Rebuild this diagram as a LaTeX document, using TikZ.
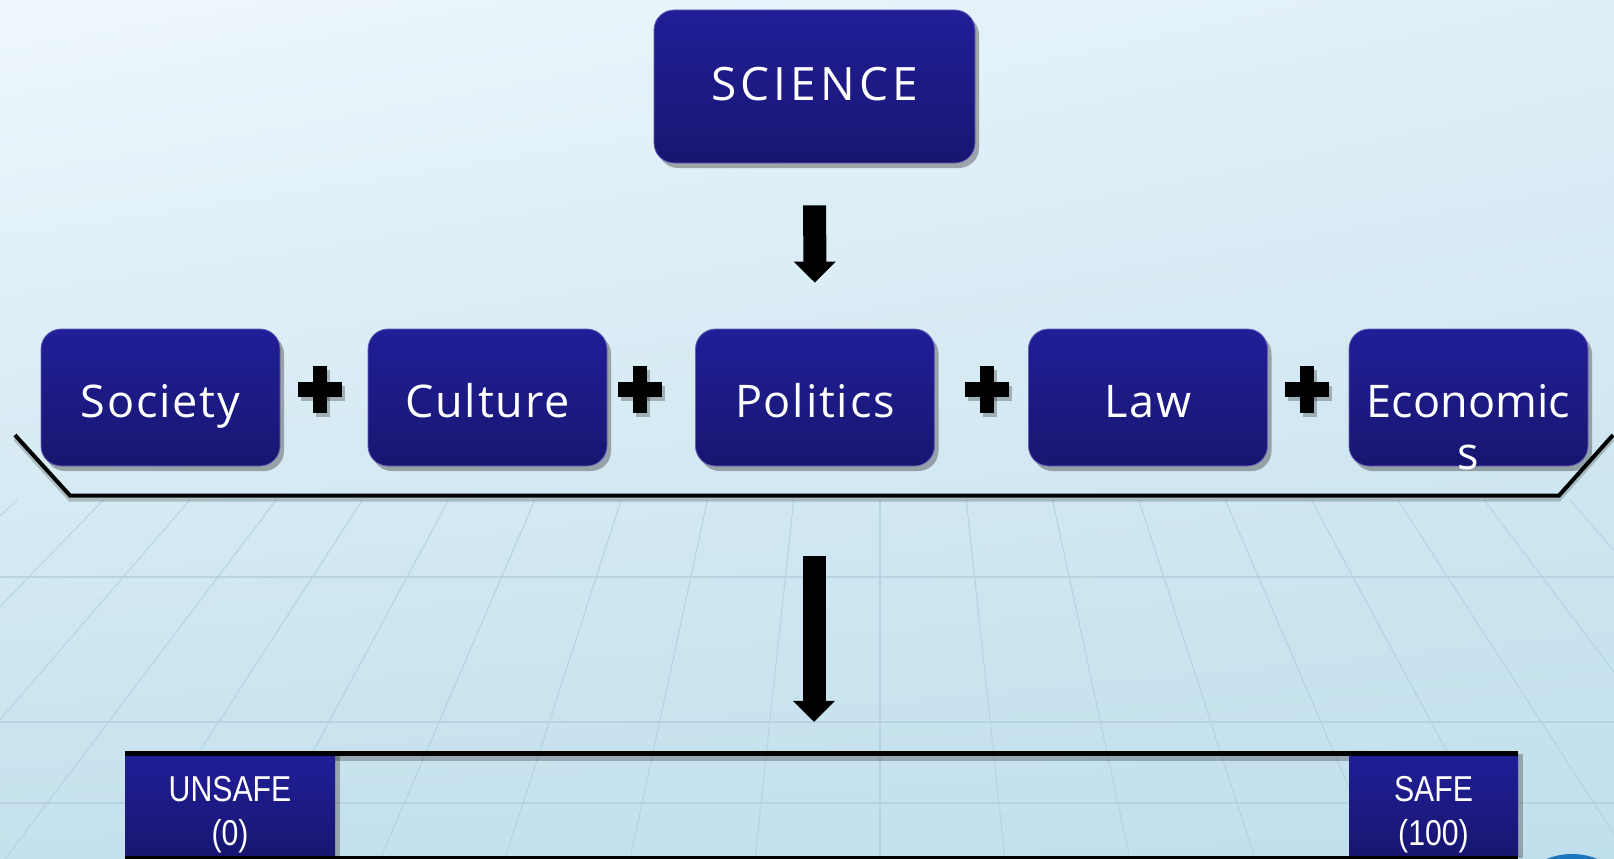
\documentclass[tikz,border=0pt]{standalone}
\usepackage{fontspec}
\setmainfont{Open Sans}[LetterSpace=4]
\newfontfamily\widefont{Open Sans}[LetterSpace=9]
\newfontfamily\plainfont{Open Sans}
\newfontfamily\narrowfont{Liberation Sans}[FakeStretch=0.84]
\usetikzlibrary{arrows.meta,shadows,shadings}

\definecolor{boxtop}{RGB}{33,30,152}
\definecolor{boxbottom}{RGB}{24,22,112}
\definecolor{bgul}{RGB}{238,247,252}
\definecolor{bgur}{RGB}{224,239,247}
\definecolor{bgll}{RGB}{196,225,237}
\definecolor{bglr}{RGB}{192,223,236}
\definecolor{gridblue}{RGB}{180,208,221}
\definecolor{cornerblue}{RGB}{28,118,190}

\begin{document}
\begin{tikzpicture}[x=1pt, y=-1pt,
    main_node/.style={rounded corners=20pt, top color=boxtop, bottom color=boxbottom,
        draw=boxtop!70!white, line width=0.8pt, text=white, inner sep=0pt,
        font=\fontsize{45}{52}\selectfont, minimum width=239pt, minimum height=137pt,
        text height=39pt, text depth=0pt,
        drop shadow={shadow xshift=4pt, shadow yshift=-5pt, opacity=0.45, fill=black!70}},
    top_node/.style={main_node, minimum width=321pt, minimum height=153pt, text height=27pt,
        font=\widefont\fontsize{46}{52}\selectfont},
    end_node/.style={top color=boxtop, bottom color=boxbottom, text=white, inner sep=0pt,
        minimum height=104pt, align=center, text height=86pt, text depth=7pt,
        font=\narrowfont\fontsize{36}{44}\selectfont,
        drop shadow={shadow xshift=5pt, shadow yshift=0pt, opacity=0.4, fill=black!70}},
    big_arrow/.style={line width=23pt, -{Triangle[width=41pt,length=21pt]}},
    grid_line/.style={draw=gridblue, line width=1.1pt, opacity=0.8}]

    \useasboundingbox (0,0) rectangle (1614,859);
    \shade[upper left=bgul, upper right=bgur, lower left=bgll, lower right=bglr] (0,0) rectangle (1614,859);

    % floor grid
    \begin{scope}
        \clip (0,500) rectangle (1614,859);
        \foreach \y in {577,722,803} \draw[grid_line] (0,\y) -- (1614,\y);
        \foreach \k in {-12,...,12} \draw[grid_line] (880,-300) -- ({880+125*\k},859);
    \end{scope}
    \fill[cornerblue] (1572,922) circle[radius=68];

    \node[top_node] (science) at (814.5,86.5) {SCIENCE};

    \node[main_node] (society) at (160.5,397.5) {Society};
    \node[main_node] (culture) at (487.5,397.5) {Culture};
    \node[main_node] (politics) at (815,397.5) {Politics};
    \node[main_node] (law) at (1148,397.5) {Law};
    \node[main_node, font=\plainfont\fontsize{45}{52}\selectfont] (economics) at (1468.5,397.5) {\begin{tabular}[t]{@{}c@{}}Economic\\s\end{tabular}};

    \coordinate (plus1) at (320,389);
    \coordinate (plus2) at (640,389);
    \coordinate (plus3) at (987,389);
    \coordinate (plus4) at (1307,389);
    \foreach \p in {plus1,plus2,plus3,plus4} {
        \fill[black, opacity=0.25] ([xshift=-19pt,yshift=-11.5pt]\p.center) rectangle ([xshift=25pt,yshift=3.5pt]\p.center);
        \fill[black, opacity=0.25] ([xshift=-4pt,yshift=-27.5pt]\p.center) rectangle ([xshift=10pt,yshift=19.5pt]\p.center);
        \fill ([xshift=-22pt,yshift=-7.5pt]\p.center) rectangle ([xshift=22pt,yshift=7.5pt]\p.center);
        \fill ([xshift=-7pt,yshift=-23.5pt]\p.center) rectangle ([xshift=7pt,yshift=23.5pt]\p.center);
    }

    % bracket under the row
    \coordinate (brace_l) at (15,435);
    \coordinate (brace_bl) at (70,495.5);
    \coordinate (brace_mid) at (814,495.5);
    \coordinate (brace_br) at (1559,495.5);
    \coordinate (brace_r) at (1613,435);
    \draw[line width=4pt, black, opacity=0.2] ([yshift=-4pt]brace_l) -- ([yshift=-4pt]brace_bl) -- ([yshift=-4pt]brace_br) -- ([yshift=-4pt]brace_r);
    \draw[line width=4pt] (brace_l) -- (brace_bl) -- (brace_br) -- (brace_r);

    % safety scale
    \node[minimum width=1393pt, minimum height=104pt, inner sep=0pt] (scale) at (821.5,805.5) {};
    \node[end_node, minimum width=210pt, anchor=north west] (unsafe) at (scale.north west) {UNSAFE\\(0)};
    \node[end_node, minimum width=169pt, anchor=north east] (safe) at (scale.north east) {SAFE\\(100)};
    \draw[line width=5pt, black, opacity=0.25] ([yshift=-5pt]unsafe.north east) -- ([yshift=-5pt]safe.north west);
    \draw[line width=5pt] (scale.north west) -- (scale.north east);
    \draw[line width=3pt] (scale.south west) -- (scale.south east);

    \draw[big_arrow, shorten <=42pt, shorten >=46pt] (science) -- (politics);
    \draw[big_arrow, shorten <=60.5pt, shorten >=31.5pt] (brace_mid) -- (brace_mid |- scale.north);

\end{tikzpicture}
\end{document}
